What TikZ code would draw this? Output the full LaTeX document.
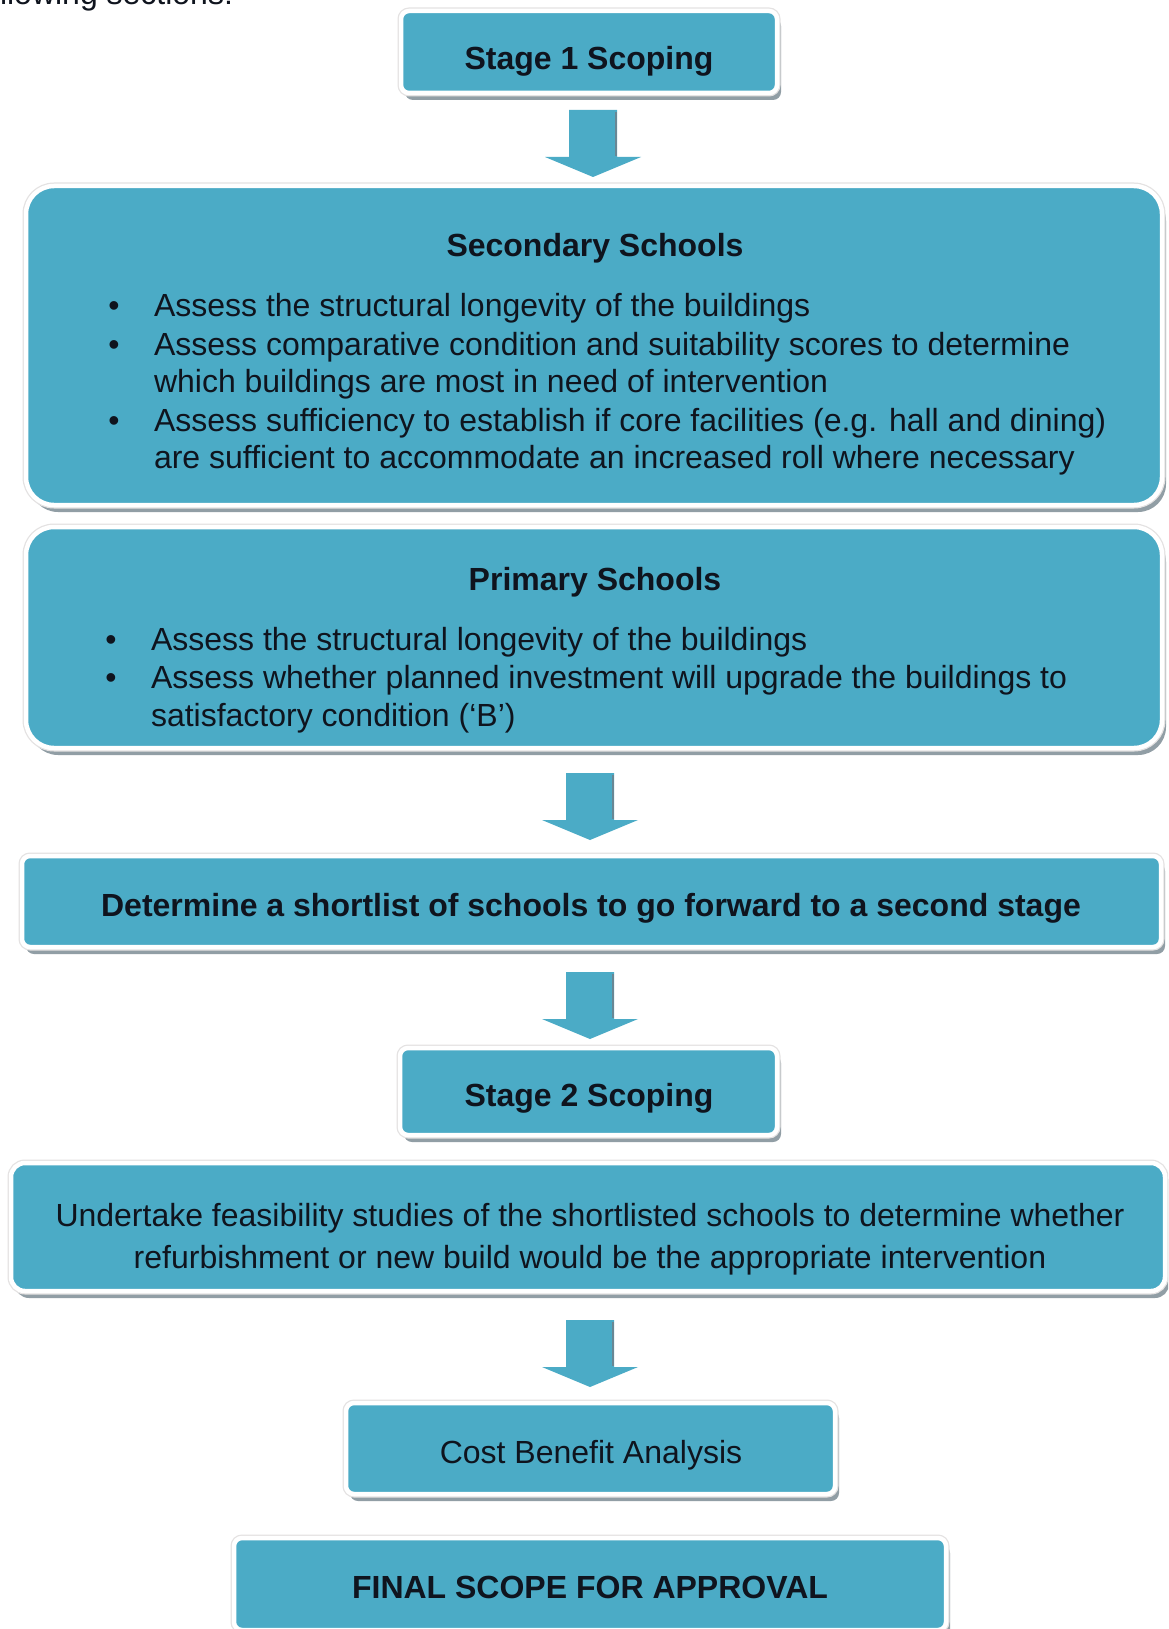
\documentclass[tikz,border=0pt]{standalone}
\usepackage{fontspec}
\setmainfont{Liberation Sans}
\usetikzlibrary{shadows}

\definecolor{panelblue}{RGB}{75,171,198}
\definecolor{shadowgray}{RGB}{145,158,165}
\definecolor{framegray}{RGB}{228,226,226}
\definecolor{inkcol}{RGB}{15,20,30}
\definecolor{arrowedge}{RGB}{105,135,148}

\tikzset{
  panel/.style={rectangle, inner sep=0pt, outer sep=0pt,
    drop shadow={shadow xshift=4pt, shadow yshift=-7pt, fill=shadowgray, opacity=1},
    preaction={draw=framegray, line width=7pt},
    fill=panelblue, draw=white, line width=4.5pt},
  txt/.style={text=inkcol, inner sep=0pt, outer sep=0pt, font=\fontsize{32}{38}\selectfont},
  btxt/.style={txt, font=\fontsize{32}{38}\selectfont\bfseries},
  bul/.style={txt, anchor=base},
  line/.style={txt, anchor=base west},
  downarrow/.pic={
    \fill[panelblue] (-24,0) -- (24,0) -- (24,47) -- (48,47) -- (0,67)
      -- (-48,47) -- (-24,47) -- cycle;
    \draw[arrowedge, line width=1.5pt] (23,2) -- (23,46);
  }
}

\begin{document}
\begin{tikzpicture}[x=1pt, y=-1pt]
  \useasboundingbox (0,0) rectangle (1168,1629);
  \fill[white] (0,0) rectangle (1168,1629);
  \clip (0,0) rectangle (1168,1629);

  % tail of the preceding paragraph
  \node[txt, anchor=base east] (intro) at (233,5) {following sections:};

  % panels
  \node[panel, rounded corners=8pt, minimum width=376, minimum height=82] (s1) at (589,52) {};
  \node[panel, rounded corners=28pt, minimum width=1136, minimum height=319] (sec) at (594,345.5) {};
  \node[panel, rounded corners=28pt, minimum width=1136, minimum height=221] (pri) at (594,637.5) {};
  \node[panel, rounded corners=8pt, minimum width=1139, minimum height=91] (det) at (591.5,901.5) {};
  \node[panel, rounded corners=8pt, minimum width=377, minimum height=87] (s2) at (588.5,1091.5) {};
  \node[panel, rounded corners=14pt, minimum width=1154, minimum height=128] (und) at (588,1227) {};
  \node[panel, rounded corners=8pt, minimum width=489, minimum height=91] (cba) at (590.5,1448.5) {};
  \node[panel, rounded corners=8pt, minimum width=712, minimum height=92] (fin) at (590,1584) {};

  % block arrows between the stages
  \pic (a1) at (593,110) {downarrow};
  \pic (a2) at (590,773) {downarrow};
  \pic (a3) at (590,972) {downarrow};
  \pic (a4) at (590,1320) {downarrow};

  % Stage 1
  \node[btxt, anchor=base] (s1t) at (589,70) {Stage 1 Scoping};

  % Secondary schools
  \node[btxt, anchor=base] (sech) at (595,256) {Secondary Schools};
  \node[bul] (sb1) at (114,316) {\textbullet};
  \node[line] (sl1) at (154,316) {Assess the structural longevity of the buildings};
  \node[bul] (sb2) at (114,355) {\textbullet};
  \node[line] (sl2) at (154,355) {Assess comparative condition and suitability scores to determine};
  \node[line] (sl3) at (154,392) {which buildings are most in need of intervention};
  \node[bul] (sb3) at (114,431) {\textbullet};
  \node[line] (sl4) at (154,431) {Assess sufficiency to establish if core facilities (e.g. hall and dining)};
  \node[line] (sl5) at (154,468) {are sufficient to accommodate an increased roll where necessary};

  % Primary schools
  \node[btxt, anchor=base] (prih) at (595,590) {Primary Schools};
  \node[bul] (pb1) at (111,650) {\textbullet};
  \node[line] (pl1) at (151,650) {Assess the structural longevity of the buildings};
  \node[bul] (pb2) at (111,688) {\textbullet};
  \node[line] (pl2) at (151,688) {Assess whether planned investment will upgrade the buildings to};
  \node[line] (pl3) at (151,726) {satisfactory condition (‘B’)};

  % Shortlist
  \node[btxt, anchor=base] (dett) at (591,916) {Determine a shortlist of schools to go forward to a second stage};

  % Stage 2
  \node[btxt, anchor=base] (s2t) at (589,1106) {Stage 2 Scoping};
  \node[txt, anchor=base] (ul1) at (590,1226) {Undertake feasibility studies of the shortlisted schools to determine whether};
  \node[txt, anchor=base] (ul2) at (590,1268) {refurbishment or new build would be the appropriate intervention};

  % Cost benefit and final scope
  \node[txt, anchor=base] (cbat) at (591,1463) {Cost Benefit Analysis};
  \node[btxt, anchor=base] (fint) at (590,1598) {FINAL SCOPE FOR APPROVAL};
\end{tikzpicture}
\end{document}
